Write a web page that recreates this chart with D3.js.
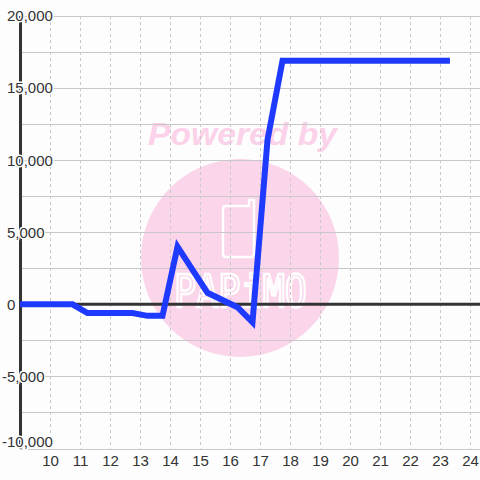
<!DOCTYPE html>
<html>
<head>
<meta charset="utf-8">
<script src="https://cdn.jsdelivr.net/npm/d3@7"></script>
<style>
  body { margin: 0; background: #fdfdfd; }
  svg { display: block; font-family: "Liberation Sans", Arial, sans-serif; }
</style>
</head>
<body>
<div id="chart"></div>
<script>
// series values
var seriesX = [9, 10.75, 11.25, 12.75, 13.25, 13.75, 14.25, 15.25, 16.25, 16.75, 17.25, 17.75, 23.33]
var seriesY = [0, 0, -600, -600, -800, -800, 4000, 800, -200, -1250, 11400, 16900, 16900]

// tick labels
var xTickValues = [10, 11, 12, 13, 14, 15, 16, 17, 18, 19, 20, 21, 22, 23, 24]
var yTickValues = [-10000, -5000, 0, 5000, 10000, 15000, 20000]
var yGridValues = [-10000, -7500, -5000, -2500, 0, 2500, 5000, 7500, 10000, 12500, 15000, 17500, 20000]

var width = 480, height = 480
var bg = '#fdfdfd'

var x = d3.scaleLinear().domain([9, 24.333]).range([20, 480])
var y = d3.scaleLinear().domain([-10000, 20000]).range([448.5, 16])

var svg = d3.select('#chart').append('svg')
  .attr('width', width)
  .attr('height', height)

svg.append('rect')
  .attr('width', width).attr('height', height)
  .attr('fill', bg)

// watermark
var wm = svg.append('g').attr('class', 'watermark')
wm.append('circle')
  .attr('cx', 240).attr('cy', 258).attr('r', 99)
  .attr('fill', '#fbd5ea')
wm.append('text')
  .attr('x', 148).attr('y', 145)
  .attr('textLength', 189)
  .attr('lengthAdjust', 'spacingAndGlyphs')
  .style('font-size', '31px')
  .style('font-weight', 'bold')
  .style('font-style', 'italic')
  .attr('fill', '#fbd2e9')
  .text('Powered by')
wm.append('path')
  .attr('d', 'M226,206 h23 v-6 h5 v54 q0,3 -3,3 h-25 q-3,0 -3,-3 v-45 q0,-3 3,-3 z')
  .attr('fill', 'none')
  .attr('stroke', '#ffffff')
  .attr('stroke-width', 2.5)
wm.append('text')
  .attr('x', 174).attr('y', 307)
  .attr('textLength', 133)
  .attr('lengthAdjust', 'spacingAndGlyphs')
  .style('font-family', '"DejaVu Sans Mono", monospace')
  .style('font-size', '44px')
  .attr('fill', '#fbd5ea')
  .attr('stroke', '#ffffff')
  .attr('stroke-width', 2.5)
  .text('PAPiMO')

// grid
var grid = svg.append('g').attr('class', 'grid')
grid.selectAll('line.h').data(yGridValues).enter().append('line')
  .attr('class', 'h')
  .attr('x1', 20).attr('x2', 480)
  .attr('y1', function(d) { return Math.round(y(d)) + 0.5 })
  .attr('y2', function(d) { return Math.round(y(d)) + 0.5 })
  .attr('stroke', '#c8c8c8')
  .attr('stroke-width', 1)
grid.selectAll('line.v').data(xTickValues).enter().append('line')
  .attr('class', 'v')
  .attr('x1', function(d) { return Math.round(x(d)) + 0.5 })
  .attr('x2', function(d) { return Math.round(x(d)) + 0.5 })
  .attr('y1', y(20000)).attr('y2', y(-10000))
  .attr('stroke', '#c8c8c8')
  .attr('stroke-width', 1)
  .attr('stroke-dasharray', '3,3')

// zero line
svg.append('line')
  .attr('x1', 20).attr('x2', 480)
  .attr('y1', y(0)).attr('y2', y(0))
  .attr('stroke', '#333')
  .attr('stroke-width', 3)

// y axis line
svg.append('line')
  .attr('x1', 20.5).attr('x2', 20.5)
  .attr('y1', y(20000)).attr('y2', y(-10000))
  .attr('stroke', '#333')
  .attr('stroke-width', 3)

// data line
var pts = seriesX.map(function(d, i) { return [d, seriesY[i]] })
var line = d3.line()
  .x(function(d) { return x(d[0]) })
  .y(function(d) { return y(d[1]) })
svg.append('path')
  .datum(pts)
  .attr('d', line)
  .attr('fill', 'none')
  .attr('stroke', '#1f3aff')
  .attr('stroke-width', 6)
  .attr('stroke-linejoin', 'miter')

// y labels (with halo so they cut the axis line); bottom one kept clear of x labels
var fmt = d3.format(',')
svg.append('g').selectAll('text').data(yTickValues).enter().append('text')
  .attr('x', 7)
  .attr('dx', function(d) { return d < 0 ? -5 : 0 })
  .attr('y', function(d) { return Math.min(y(d), 442) })
  .attr('dy', '0.36em')
  .style('font-size', '15px')
  .attr('fill', '#333')
  .attr('stroke', bg)
  .attr('stroke-width', 3)
  .attr('paint-order', 'stroke')
  .text(function(d) { return fmt(d).replace('−', '-') })

// x labels
var xAxis = d3.axisBottom(x).tickValues(xTickValues).tickSize(0).tickPadding(0).tickFormat(d3.format('d'))
var gx = svg.append('g')
  .attr('transform', 'translate(0,455)')
  .call(xAxis)
gx.select('.domain').remove()
gx.selectAll('text')
  .attr('dy', '0.75em')
  .style('font-size', '15px')
  .style('font-family', '"Liberation Sans", Arial, sans-serif')
  .attr('fill', '#333')
</script>
</body>
</html>
